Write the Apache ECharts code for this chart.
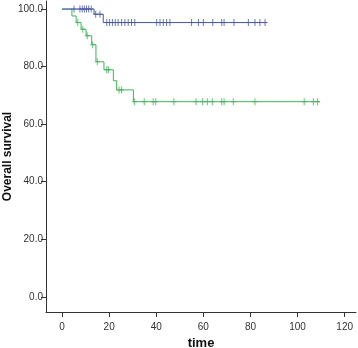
<!DOCTYPE html>
<html>
<head>
<meta charset="utf-8">
<script src="https://cdn.jsdelivr.net/npm/echarts@6/dist/echarts.min.js"></script>
<style>html,body{margin:0;padding:0;background:#fff}#c{width:358px;height:348px}</style>
</head>
<body>
<div id="c"></div>
<script>
// Group 1 (blue) Kaplan-Meier steps
const blueTimes = [0, 13.6, 17.5, 86.9];
const blueSurv = [100, 98.2, 95.3, 95.3];
const blueCensor = [5.1, 7.6, 8.6, 9.5, 10.4, 11.3, 12.4, 14.3, 16.1, 19, 20.2, 21.4, 22.6, 23.8, 25.3, 26.7, 28.1, 29.5, 30.9, 40.2, 41.6, 43.0, 44.4, 45.8, 55, 57.9, 60, 64, 67.8, 68.8, 73, 79.1, 81.9, 84, 86.2];
// Group 2 (green)
const greenTimes = [0, 4.2, 6, 8.1, 10.2, 12.6, 14.4, 17.8, 21.8, 23.2, 30.3, 109.5];
const greenSurv = [100, 97.6, 95.3, 93.0, 90.7, 87.6, 81.7, 78.9, 75.1, 71.9, 67.8, 67.8];
const greenCensor = [6.7, 8.8, 10.7, 13, 15, 19, 19.7, 24.2, 25.3, 30.7, 34.9, 38.7, 39.8, 47.5, 56.9, 59.7, 61.7, 63.8, 67.8, 68.8, 72.7, 81.9, 102.8, 106.7, 108.5];
const xTicks = [0, 20, 40, 60, 80, 100, 120];
const yTicks = [0, 20, 40, 60, 80, 100];

function survAt(times, surv, t) {
  let v = surv[0];
  for (let i = 0; i < times.length; i++) { if (times[i] <= t) v = surv[i]; }
  return v;
}
const plus = 'path://M2,0h1v3h2v1h-2v3h-1v-3h-2v-1h2z';
const BLUE = '#4756a6', GREEN = '#3fb55a';
const chart = echarts.init(document.getElementById('c'));
chart.setOption({
  animation: false,
  backgroundColor: '#fff',
  grid: { left: 46, right: 2, top: 1, bottom: 36, containLabel: false, outerBoundsMode: 'none' },
  xAxis: {
    type: 'value', min: -6.8, max: 124.8,
    name: 'time', nameLocation: 'middle', nameGap: 25, nameMoveOverlap: false,
    nameTextStyle: { fontFamily: 'Liberation Sans', fontWeight: 'bold', fontSize: 13, color: '#111' },
    splitLine: { show: false },
    axisLine: { onZero: false, lineStyle: { color: '#333', width: 1 } },
    axisTick: { show: true, length: 5, lineStyle: { color: '#333' }, customValues: xTicks },
    axisLabel: { customValues: xTicks, fontFamily: 'Liberation Sans', fontSize: 10, color: '#333', margin: 10 }
  },
  yAxis: {
    type: 'value', min: -5.3, max: 102.8,
    name: 'Overall survival', nameLocation: 'middle', nameGap: 32, nameRotate: 90, nameMoveOverlap: false,
    nameTextStyle: { fontFamily: 'Liberation Sans', fontWeight: 'bold', fontSize: 12, color: '#111' },
    splitLine: { show: false },
    axisLine: { show: true, onZero: false, lineStyle: { color: '#333', width: 1 } },
    axisTick: { show: true, length: 5, lineStyle: { color: '#333' }, customValues: yTicks },
    axisLabel: { customValues: yTicks, fontFamily: 'Liberation Sans', fontSize: 10, color: '#333', margin: 3,
      formatter: v => v.toFixed(1) }
  },
  series: [
    { type: 'line', step: 'end', symbol: 'none', data: blueTimes.map((t, i) => [t, blueSurv[i]]),
      lineStyle: { color: BLUE, width: 1 }, z: 3 },
    { type: 'line', step: 'end', symbol: 'none', data: greenTimes.map((t, i) => [t, greenSurv[i]]),
      lineStyle: { color: GREEN, width: 1 }, z: 2 },
    { type: 'scatter', symbol: plus, symbolSize: [5, 7], itemStyle: { color: BLUE }, z: 4,
      data: blueCensor.map(t => [t, survAt(blueTimes, blueSurv, t)]) },
    { type: 'scatter', symbol: plus, symbolSize: [5, 7], itemStyle: { color: GREEN }, z: 3,
      data: greenCensor.map(t => [t, survAt(greenTimes, greenSurv, t)]) }
  ]
});
</script>
</body>
</html>
